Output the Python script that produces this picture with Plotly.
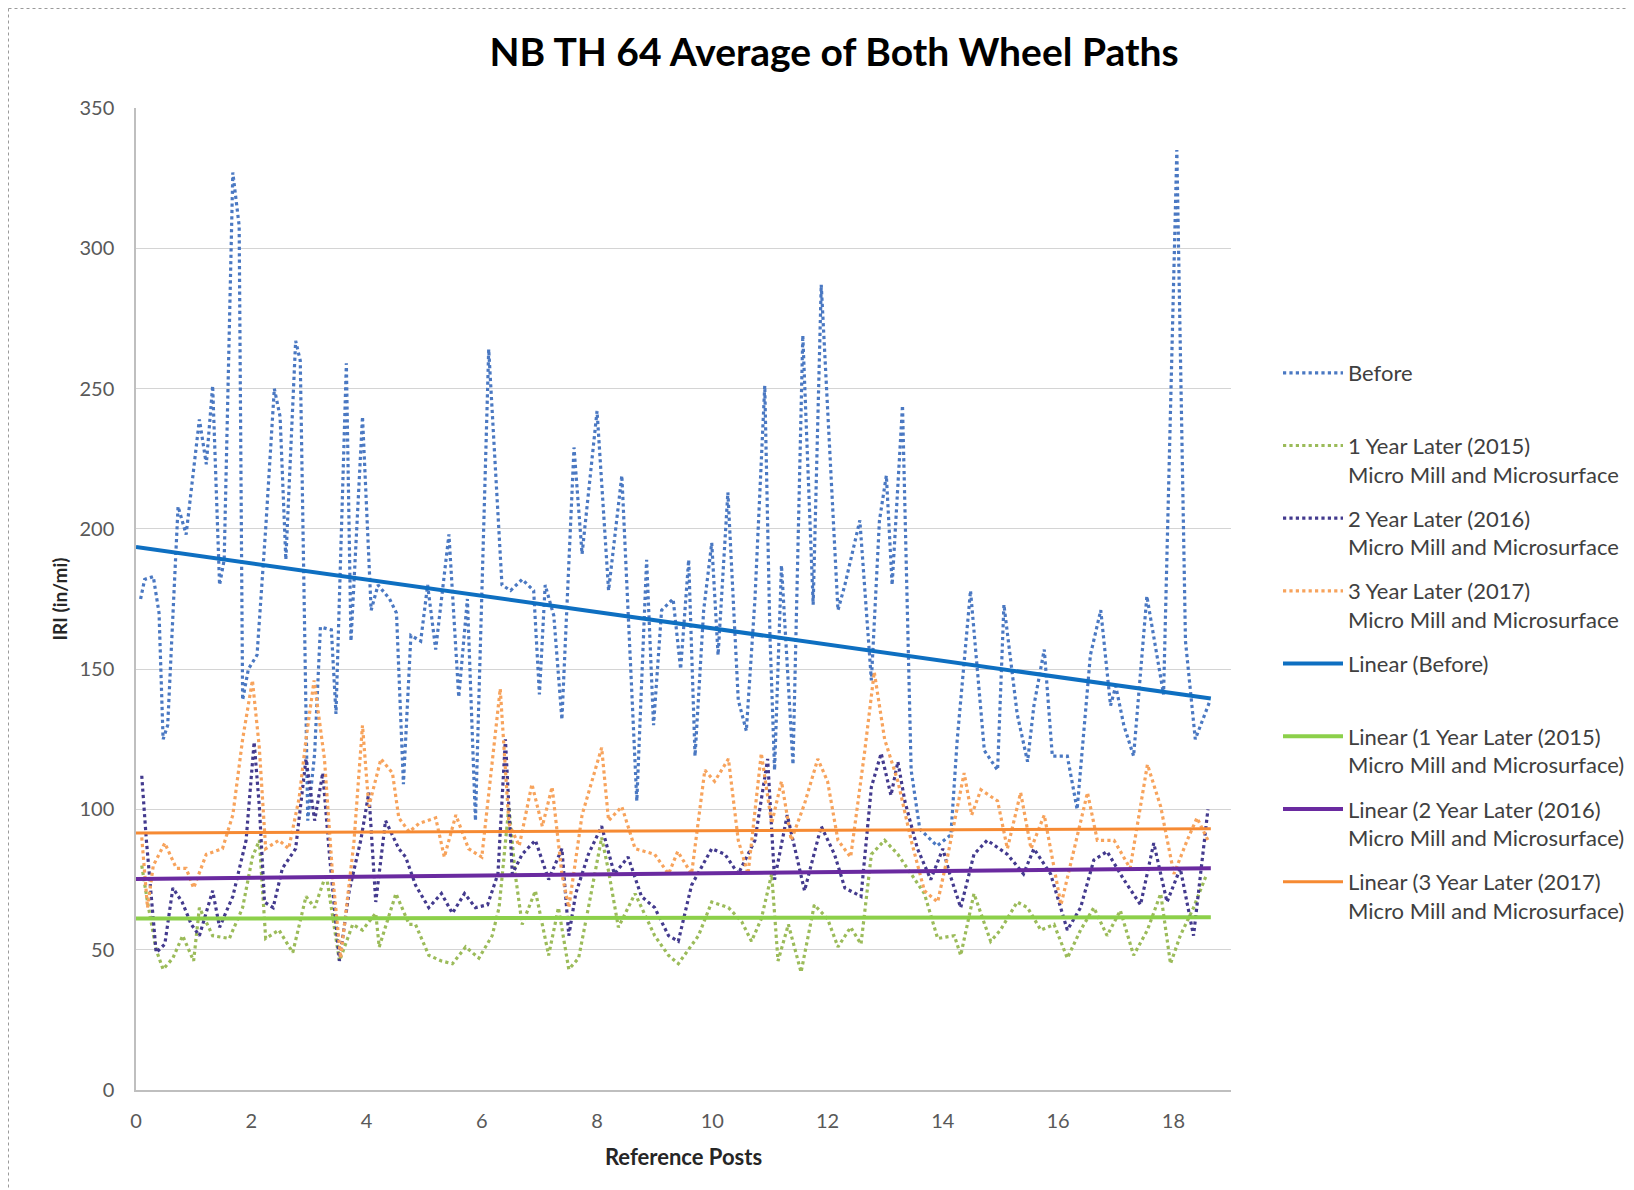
import plotly.graph_objects as go

# ---------------- data ----------------
before_x = [0.08, 0.15, 0.3, 0.4, 0.47, 0.55, 0.73, 0.87, 1.1, 1.22, 1.33, 1.45, 1.53, 1.68, 1.79, 1.85,
            1.95, 2.1, 2.25, 2.4, 2.5, 2.6, 2.77, 2.85, 2.98, 3.1, 3.2, 3.39, 3.47, 3.65, 3.73, 3.93,
            4.08, 4.2, 4.4, 4.52, 4.64, 4.77, 4.94, 5.06, 5.2, 5.43, 5.6, 5.75, 5.89, 6.12, 6.35,
            6.5, 6.7, 6.9, 7.0, 7.1, 7.25, 7.39, 7.6, 7.74, 8.0, 8.2, 8.43, 8.69, 8.86, 8.98, 9.12,
            9.32, 9.45, 9.59, 9.7, 9.85, 9.99, 10.1, 10.27, 10.45, 10.59, 10.74, 10.91, 11.0, 11.08,
            11.2, 11.4, 11.57, 11.75, 11.89, 12.18, 12.3, 12.56, 12.76, 12.9, 13.02, 13.12, 13.3,
            13.45, 13.6, 13.9, 14.14, 14.25, 14.48, 14.72, 14.95, 15.06, 15.29, 15.47, 15.58, 15.76,
            15.9, 16.16, 16.33, 16.56, 16.74, 16.91, 17.0, 17.14, 17.31, 17.54, 17.83, 18.06, 18.21,
            18.38, 18.64]
before_y = [175, 182, 183, 170, 125, 130, 208, 198, 239, 223, 251, 180, 189, 327, 308, 139,
            150, 155, 200, 250, 240, 189, 267, 260, 96, 120, 165, 164, 134, 259, 160, 240,
            171, 180, 175, 170, 109, 162, 160, 180, 157, 198, 140, 175, 96, 264, 180,
            178, 182, 178, 141, 180, 169, 132, 229, 191, 242, 178, 219, 103, 189, 130, 171,
            175, 150, 189, 119, 171, 195, 155, 213, 139, 128, 175, 251, 162, 114,
            187, 116, 269, 173, 287, 171, 180, 203, 146, 203, 219, 180, 244,
            114, 93, 87, 91, 125, 178, 121, 114, 173, 134, 117, 137, 157,
            119, 119, 100, 155, 171, 137, 144, 130, 119, 176, 141, 335, 160,
            125, 139]

y2015_x = [0.1, 0.2, 0.35, 0.47, 0.64, 0.81, 1.0, 1.1, 1.33, 1.62, 1.85, 2.02, 2.14, 2.25, 2.48, 2.72,
           2.95, 3.1, 3.3, 3.53, 3.76, 3.93, 4.16, 4.22, 4.51, 4.74, 4.85, 5.08, 5.3, 5.49, 5.72,
           5.95, 6.18, 6.3, 6.47, 6.58, 6.7, 6.93, 7.16, 7.33, 7.51, 7.68, 7.85, 8.08, 8.2, 8.37,
           8.66, 9.0, 9.24, 9.41, 9.76, 9.99, 10.28, 10.51, 10.68, 10.85, 11.03, 11.14, 11.32,
           11.54, 11.77, 12.0, 12.18, 12.4, 12.58, 12.76, 12.99, 13.22, 13.45, 13.68, 13.91, 14.2,
           14.31, 14.54, 14.83, 15.0, 15.29, 15.47, 15.7, 15.93, 16.16, 16.39, 16.62, 16.85,
           17.08, 17.31, 17.55, 17.78, 17.95, 18.12, 18.35, 18.58]
y2015_y = [80, 67, 50, 43, 47, 55, 46, 65, 55, 54, 65, 83, 89, 54, 57, 49,
           69, 65, 77, 46, 59, 57, 63, 51, 70, 59, 59, 48, 46, 45, 51,
           47, 55, 65, 101, 77, 59, 71, 48, 65, 43, 47, 65, 90, 78, 58,
           70, 55, 48, 45, 55, 67, 65, 60, 53, 61, 77, 46, 59,
           42, 66, 61, 51, 58, 52, 84, 89, 84, 77, 70, 54, 55,
           48, 70, 53, 57, 67, 65, 57, 59, 47, 57, 65, 55,
           64, 48, 57, 70, 45, 55, 65, 77]

y2016_x = [0.1, 0.18, 0.35, 0.5, 0.64, 0.8, 0.96, 1.1, 1.33, 1.45, 1.68, 1.91, 2.05, 2.14, 2.23, 2.38,
           2.54, 2.77, 2.95, 3.1, 3.24, 3.36, 3.53, 3.7, 3.9, 4.04, 4.16, 4.33, 4.56, 4.68, 4.85,
           5.08, 5.3, 5.49, 5.7, 5.89, 6.1, 6.28, 6.41, 6.53, 6.7, 6.93, 7.16, 7.39, 7.51, 7.63,
           7.85, 8.08, 8.3, 8.54, 8.77, 9.0, 9.24, 9.41, 9.64, 9.99, 10.22, 10.45, 10.74, 10.96,
           11.08, 11.3, 11.6, 11.89, 12.12, 12.3, 12.58, 12.76, 12.93, 13.1, 13.22, 13.34, 13.56,
           13.79, 14.0, 14.12, 14.31, 14.54, 14.77, 15.12, 15.4, 15.58, 15.87, 16.16, 16.39,
           16.62, 16.85, 17.14, 17.43, 17.66, 17.89, 18.12, 18.35, 18.6]
y2016_y = [112, 89, 49, 52, 72, 67, 59, 55, 71, 58, 69, 89, 124, 101, 67, 65,
           79, 86, 118, 96, 113, 83, 46, 71, 89, 106, 67, 96, 86, 83, 73,
           65, 70, 63, 70, 65, 66, 77, 125, 77, 84, 89, 75, 86, 55, 70,
           84, 94, 77, 83, 69, 65, 55, 53, 73, 86, 84, 77, 89, 118,
           75, 98, 71, 94, 84, 72, 69, 108, 120, 105, 117, 103, 86,
           75, 86, 77, 65, 84, 89, 84, 77, 86, 77, 57, 65,
           82, 85, 75, 66, 88, 67, 79, 55, 100]

y2017_x = [0.1, 0.2, 0.3, 0.5, 0.7, 0.87, 1.0, 1.22, 1.5, 1.68, 1.85, 2.02, 2.14, 2.25, 2.48, 2.65,
           2.83, 2.95, 3.09, 3.27, 3.41, 3.55, 3.78, 3.93, 4.04, 4.25, 4.45, 4.56, 4.74, 4.91,
           5.2, 5.35, 5.55, 5.77, 6.0, 6.15, 6.32, 6.47, 6.65, 6.87, 7.05, 7.22, 7.39, 7.51,
           7.74, 8.08, 8.2, 8.43, 8.66, 9.0, 9.24, 9.4, 9.64, 9.87, 10.04, 10.28, 10.45, 10.62,
           10.85, 11.03, 11.2, 11.37, 11.6, 11.83, 12.0, 12.18, 12.4, 12.64, 12.81, 12.99, 13.22,
           13.45, 13.68, 13.91, 14.08, 14.37, 14.5, 14.66, 14.95, 15.12, 15.35, 15.53, 15.76,
           16.05, 16.28, 16.51, 16.68, 16.97, 17.25, 17.55, 17.78, 18.01, 18.24, 18.41, 18.6]
y2017_y = [90, 65, 80, 88, 79, 79, 72, 84, 86, 98, 125, 146, 122, 86, 89, 86,
           104, 125, 146, 118, 77, 47, 88, 130, 101, 118, 113, 97, 92, 95,
           97, 83, 98, 86, 83, 110, 143, 95, 87, 109, 94, 108, 77, 65,
           98, 122, 96, 101, 86, 84, 77, 85, 77, 114, 110, 118, 89, 77,
           120, 95, 110, 89, 102, 118, 110, 89, 83, 120, 149, 125, 110,
           89, 71, 67, 83, 113, 98, 107, 103, 86, 106, 86, 98,
           66, 86, 106, 89, 89, 79, 116, 101, 77, 89, 97, 89]

# linear trend end points (x from 0 to last reference post)
trend_x = [0, 18.65]
trend_before = [193.5, 139.5]
trend_2015 = [61.1, 61.6]
trend_2016 = [75.2, 79.0]
trend_2017 = [91.6, 93.1]

y_ticks = [0, 50, 100, 150, 200, 250, 300, 350]
x_ticks = [0, 2, 4, 6, 8, 10, 12, 14, 16, 18]

names = {
    "before": "Before<br> ",
    "y2015": "1 Year Later (2015)<br>Micro Mill and Microsurface",
    "y2016": "2 Year Later (2016)<br>Micro Mill and Microsurface",
    "y2017": "3 Year Later (2017)<br>Micro Mill and Microsurface",
    "lbefore": "Linear (Before)<br> ",
    "l2015": "Linear (1 Year Later (2015)<br>Micro Mill and Microsurface)",
    "l2016": "Linear (2 Year Later (2016)<br>Micro Mill and Microsurface)",
    "l2017": "Linear (3 Year Later (2017)<br>Micro Mill and Microsurface)",
}

FONT = "Lato"
fig = go.Figure()

def dotted(x, y, name, color, grp):
    fig.add_trace(go.Scatter(x=x, y=y, mode="lines", name=name, legendgroup=grp,
                             line=dict(color=color, width=3.2, dash="dot")))

def solid(x, y, name, color, width, grp):
    fig.add_trace(go.Scatter(x=x, y=y, mode="lines", name=name, legendgroup=grp,
                             line=dict(color=color, width=width)))

dotted(before_x, before_y, names["before"], "#4A78C2", "a")
dotted(y2015_x, y2015_y, names["y2015"], "#9BBB59", "b")
dotted(y2016_x, y2016_y, names["y2016"], "#433A8E", "c")
dotted(y2017_x, y2017_y, names["y2017"], "#F7A35C", "d")
solid(trend_x, trend_before, names["lbefore"], "#0E6FC1", 4, "e")
solid(trend_x, trend_2015, names["l2015"], "#8CD04A", 4, "f")
solid(trend_x, trend_2016, names["l2016"], "#6A2AA0", 4, "g")
solid(trend_x, trend_2017, names["l2017"], "#F68A33", 3, "h")

# page body has an 8px margin: all positions below are page positions minus 8
OFF = 8
W, H = 1634 - OFF, 1190 - OFF
L, R, T, B = 136 - OFF, 1231 - OFF, 108 - OFF, 1090 - OFF
pw, ph = R - L, B - T

fig.update_layout(
    width=W, height=H,
    margin=dict(l=L, r=W - R, t=T, b=H - B, pad=0, autoexpand=False),
    paper_bgcolor="white", plot_bgcolor="white",
    font=dict(family=FONT, color="#404040"),
    title=dict(text="<b>NB TH 64 Average of Both Wheel Paths</b>",
               font=dict(family=FONT, size=39, color="#000000"),
               x=(834 - OFF) / W, xref="container", xanchor="center",
               y=1 - (52 - OFF) / H, yref="container", yanchor="middle"),
    xaxis=dict(range=[0, 19], tickmode="array", tickvals=x_ticks,
               showgrid=False, zeroline=False, showline=True, linecolor="#BFBFBF", linewidth=1.5,
               ticks="", tickfont=dict(family=FONT, size=20, color="#595959"),
               ticklabelstandoff=12, automargin=False,
               title=dict(text="<b>Reference Posts</b>", font=dict(family=FONT, size=22, color="#262626"),
                          standoff=19)),
    yaxis=dict(range=[0, 350], tickmode="array", tickvals=y_ticks,
               showgrid=True, gridcolor="#D4D4D4", gridwidth=1.2, zeroline=False,
               showline=True, linecolor="#BFBFBF", linewidth=1.5,
               ticks="", tickfont=dict(family=FONT, size=20, color="#595959"),
               ticklabelstandoff=16, automargin=False,
               title=dict(text="<b>IRI (in/mi)</b>", font=dict(family=FONT, size=19, color="#262626"),
                          standoff=7)),
    legend=dict(x=(1278 - OFF) / W, xref="container", xanchor="left",
                y=1 - (352 - 108) / ph, yanchor="top",
                font=dict(family=FONT, size=22, color="#404040"),
                bgcolor="rgba(0,0,0,0)", itemwidth=60, valign="top",
                tracegroupgap=12.5, traceorder="grouped"),
    showlegend=True,
)

# dotted outer frame (top and left edges)
fig.add_shape(type="line", xref="paper", yref="paper",
              x0=(0.5 - L) / pw, x1=(W - L) / pw, y0=(B - 0.5) / ph, y1=(B - 0.5) / ph,
              line=dict(color="#9A9A9A", width=1, dash="dot"))
fig.add_shape(type="line", xref="paper", yref="paper",
              x0=(0.5 - L) / pw, x1=(0.5 - L) / pw, y0=(B - 0.5) / ph, y1=(B - H) / ph,
              line=dict(color="#9A9A9A", width=1, dash="dot"))

fig.write_html("out.html")
